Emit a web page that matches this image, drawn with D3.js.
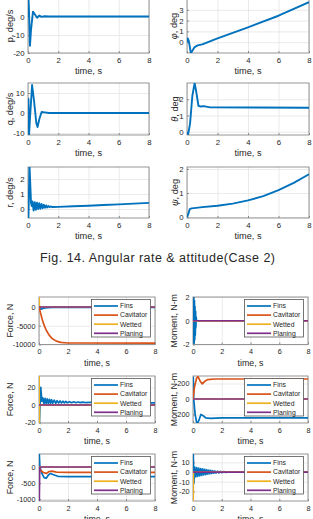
<!DOCTYPE html>
<html>
<head>
<meta charset="utf-8">
<script src="https://cdn.jsdelivr.net/npm/d3@7"></script>
<style>
body { margin: 0; background: #fff; }
text { font-family: "Liberation Sans", Arial, sans-serif; fill: #262626; }
.grid line { stroke: #e4e4e4; stroke-width: 0.8; }
.grid path { display: none; }
.tick-lab path { display: none; }
</style>
</head>
<body>
<svg id="chart" width="313" height="519"></svg>
<script>
var timeTicks = [0, 2, 4, 6, 8]

// Fig. 14 - angular rates and attitude
var pRate = [[0,0],[0.03,11],[0.06,5],[0.13,-16],[0.2,-7],[0.33,3],[0.45,1.5],[0.6,-0.4],[0.75,0.8],[0.9,0.1],[1.1,0.4],[1.4,0.3],[2,0.3],[8,0.3]]
var phiAng = [[0,0],[0.05,0.35],[0.12,0.1],[0.25,-1],[0.35,-0.8],[0.5,-0.45],[0.7,-0.3],[1,-0.2],[2,0.35],[4,1.38],[6,2.45],[8,3.7]]
var qRate = [[0,0],[0.03,7],[0.07,-11],[0.12,-4],[0.27,14],[0.4,6],[0.55,-5],[0.63,-7],[0.75,-3],[0.9,0.5],[1.1,0.3],[1.4,0],[8,0]]
var thetaAng = [[0,0],[0.08,-0.15],[0.2,0.5],[0.35,2.2],[0.5,3],[0.6,2.5],[0.75,1.6],[0.9,1.55],[1.1,1.58],[1.5,1.5],[8,1.48]]
var rRate = [[0,0],[0.03,-0.55],[0.1,2.9],[0.2,0.4],[0.25,0.2],[0.3,0.5],[0.37,-0.1],[0.45,0.45],[0.52,-0.05],[0.6,0.42],[0.67,0],[0.75,0.38],[0.82,0.02],[0.9,0.33],[0.97,0.05],[1.05,0.28],[1.12,0.08],[1.2,0.24],[1.27,0.1],[1.35,0.2],[1.42,0.12],[1.5,0.17],[1.6,0.13],[2,0.14],[3,0.18],[4,0.22],[5,0.27],[6,0.31],[7,0.36],[8,0.41]]
var psiAng = [[0,0],[0.1,0.15],[0.18,0.33],[0.3,0.36],[0.6,0.38],[1,0.41],[2,0.47],[3,0.56],[4,0.69],[5,0.87],[6,1.12],[7,1.42],[8,1.78]]

// Fig. 15 - forces and moments by component
var seriesNames = ["Fins", "Cavitator", "Wetted", "Planing"]
var zeroLine = [[0,0],[8,0]]

var force1Fins = [[0,0],[0.05,-400],[0.15,-600],[0.3,-300],[0.6,-150],[1,-100],[8,-100]]
var force1Cav = [[0,0],[0.1,-1500],[0.2,-3000],[0.3,-4300],[0.4,-5300],[0.5,-6200],[0.7,-7500],[0.9,-8400],[1.2,-9100],[1.5,-9450],[2,-9600],[8,-9650]]
var force1Wet = [[0,0],[0.01,2800],[0.03,0],[8,0]]
var force1Plan = zeroLine

var moment1Fins = [[0,0],[0.02,1.9],[0.04,-1.8],[0.06,1.9],[0.08,-1.9],[0.1,1.7],[0.12,-1.6],[0.14,1.2],[0.16,-1.2],[0.18,0.8],[0.2,-0.6],[0.22,0.3],[0.25,0],[8,0]]
var moment1Cav = zeroLine
var moment1Wet = zeroLine
var moment1Plan = zeroLine

var force2Fins = [[0,0],[0.03,-21],[0.06,-5],[0.12,20],[0.2,4],[0.27,8],[0.35,1],[0.42,7.5],[0.5,1.5],[0.57,7],[0.65,1.5],[0.72,6.5],[0.8,2],[0.87,6],[0.95,2],[1.05,5.5],[1.15,2],[1.25,5],[1.35,2.2],[1.45,4.6],[1.55,2.3],[1.65,4.3],[1.75,2.4],[1.85,4],[1.95,2.5],[2.1,3.8],[2.25,2.6],[2.4,3.6],[2.55,2.6],[2.7,3.4],[2.85,2.7],[3,3.2],[3.2,2.8],[3.5,3],[4,2.9],[8,2.5]]
var force2Cav = zeroLine
var force2Wet = [[0,0],[0.01,34],[0.02,-21],[0.035,0],[8,0]]
var force2Plan = zeroLine

var moment2Fins = [[0,0],[0.02,280],[0.05,0],[0.15,-200],[0.28,-330],[0.4,-280],[0.55,-200],[0.7,-215],[0.9,-245],[1.2,-250],[2,-245],[8,-245]]
var moment2Cav = [[0,0],[0.1,150],[0.25,270],[0.35,290],[0.5,230],[0.65,195],[0.8,225],[1,250],[1.5,258],[8,258]]
var moment2Wet = zeroLine
var moment2Plan = zeroLine

var force3Fins = [[0,0],[0.02,420],[0.06,0],[0.2,-200],[0.35,-330],[0.5,-350],[0.65,-250],[0.8,-200],[1,-240],[1.3,-290],[2,-300],[8,-300]]
var force3Cav = [[0,0],[0.1,-100],[0.3,-170],[0.5,-200],[0.7,-140],[0.9,-130],[1.2,-160],[2,-165],[8,-165]]
var force3Wet = zeroLine
var force3Plan = [[0,0],[0.02,-1100],[0.05,0],[8,0]]

var moment3Fins = [[0,0],[0.02,19],[0.06,-12],[0.12,5],[0.19,-5],[0.26,4.5],[0.33,-4.5],[0.4,4],[0.47,-4],[0.54,3.6],[0.61,-3.5],[0.68,3.2],[0.75,-3],[0.82,2.8],[0.89,-2.6],[0.96,2.4],[1.03,-2.2],[1.1,2],[1.17,-1.8],[1.24,1.7],[1.31,-1.5],[1.38,1.4],[1.45,-1.2],[1.52,1.1],[1.6,-1],[1.7,0.9],[1.8,-0.8],[1.9,0.7],[2,-0.6],[2.15,0.5],[2.3,-0.4],[2.5,0.3],[2.7,-0.2],[3,0.1],[3.5,0],[8,0]]
var moment3Cav = zeroLine
var moment3Wet = [[0,0],[0.015,-31],[0.03,0],[8,0]]
var moment3Plan = zeroLine

var lineColors = ["#0072BD", "#D95319", "#EDB120", "#7E2F8E"]

var svg = d3.select("#chart")
svg.append("rect").attr("width", 313).attr("height", 519).attr("fill", "#fff")

// layout of every axes box (pixels), fig 14 on top, fig 15 below
var panels = [
    {ylab: "p, deg/s", left: 28, right: 149, top: -1, bottom: 53, yDom: [-20, 10], yTicks: [-20, -10, 0], series: [pRate], labX: 10},
    {sym: "\u03C6", ylab: ", deg", left: 187, right: 309, top: -1, bottom: 53, yDom: [-1, 4], yTicks: [0, 1, 2, 3], series: [phiAng], labX: 174},
    {ylab: "q, deg/s", left: 28, right: 149, top: 83, bottom: 135, yDom: [-11, 15], yTicks: [-10, 0, 10], series: [qRate], labX: 10},
    {sym: "\u03B8", ylab: ", deg", left: 187, right: 309, top: 83, bottom: 135, yDom: [-0.2, 3], yTicks: [0, 1, 2], series: [thetaAng], labX: 175},
    {ylab: "r, deg/s", left: 28, right: 149, top: 167, bottom: 218, yDom: [-0.6, 2.8], yTicks: [0, 1, 2], series: [rRate], labX: 10},
    {sym: "\u03C8", ylab: ", deg", left: 187, right: 309, top: 167, bottom: 218, yDom: [-0.04, 2.08], yTicks: [0, 1, 2], series: [psiAng], labX: 175},

    {ylab: "Force, N", left: 39, right: 155, top: 297, bottom: 344.5, yDom: [-10000, 2670], yTicks: [-10000, -5000, 0], series: [force1Fins, force1Cav, force1Wet, force1Plan], labX: 9.5, legend: true, small: true},
    {ylab: "Moment, N-m", left: 193, right: 308, top: 297, bottom: 344.5, yDom: [-2, 2], yTicks: [-2, 0, 2], series: [moment1Fins, moment1Cav, moment1Wet, moment1Plan], labX: 173.5, legend: true, small: true},
    {ylab: "Force, N", left: 39, right: 155, top: 376, bottom: 423, yDom: [-20.5, 33], yTicks: [-20, 0, 20], series: [force2Fins, force2Cav, force2Wet, force2Plan], labX: 9.5, legend: true, small: true},
    {ylab: "Moment, N-m", left: 193, right: 308, top: 376, bottom: 423, yDom: [-310, 297], yTicks: [-200, 0, 200], series: [moment2Fins, moment2Cav, moment2Wet, moment2Plan], labX: 173.5, legend: true, small: true},
    {ylab: "Force, N", left: 39, right: 155, top: 454, bottom: 501, yDom: [-1060, 406], yTicks: [-1000, -500, 0], series: [force3Fins, force3Cav, force3Wet, force3Plan], labX: 9.5, legend: true, small: true},
    {ylab: "Moment, N-m", left: 193, right: 308, top: 454, bottom: 501, yDom: [-30, 18.7], yTicks: [-20, -10, 0, 10], series: [moment3Fins, moment3Cav, moment3Wet, moment3Plan], labX: 173.5, legend: true, small: true}
]

panels.forEach(function(p, i) {
    var w = p.right - p.left
    var h = p.bottom - p.top
    var tickFont = p.small ? 7.3 : 7.8
    var labFont = p.small ? 8.8 : 9.2

    var xScale = d3.scaleLinear().domain([0, 8]).range([0, w])
    var yScale = d3.scaleLinear().domain(p.yDom).range([h, 0])

    var g = svg.append("g").attr("transform", `translate(${p.left},${p.top})`)

    // grid
    g.append("g").attr("class", "grid")
     .attr("transform", `translate(0,${h})`)
     .call(d3.axisBottom(xScale).tickValues(timeTicks).tickSize(-h).tickFormat(""))
    g.append("g").attr("class", "grid")
     .call(d3.axisLeft(yScale).tickValues(p.yTicks).tickSize(-w).tickFormat(""))

    svg.append("clipPath").attr("id", "clip" + i)
       .append("rect").attr("x", p.left).attr("y", p.top).attr("width", w).attr("height", h)

    var line = d3.line().x(d => xScale(d[0])).y(d => yScale(d[1]))
    var lines = svg.append("g").attr("clip-path", `url(#clip${i})`)
                   .append("g").attr("transform", `translate(${p.left},${p.top})`)
    p.series.forEach(function(s, k) {
        lines.append("path")
             .attr("d", line(s))
             .attr("fill", "none")
             .attr("stroke", lineColors[k])
             .attr("stroke-width", p.small ? 1.7 : 1.9)
             .attr("stroke-linejoin", "round")
    })

    // box and small inner ticks
    g.append("rect").attr("width", w).attr("height", h)
     .attr("fill", "none").attr("stroke", "#8a8a8a").attr("stroke-width", 0.9)
    g.append("g").attr("class", "tick-lab")
     .attr("transform", `translate(0,${h})`)
     .call(d3.axisBottom(xScale).tickValues(timeTicks).tickSize(-2).tickPadding(4.5).tickFormat(d3.format("d")))
     .call(a => a.selectAll("line").attr("stroke", "#8a8a8a"))
     .selectAll("text").attr("font-size", tickFont).attr("fill", "#262626")
     .style("font-family", "Liberation Sans, Arial, sans-serif")
    g.append("g").attr("class", "tick-lab")
     .call(d3.axisLeft(yScale).tickValues(p.yTicks).tickSize(-2).tickPadding(3.5).tickFormat(d => String(d).replace("-", "-")))
     .call(a => a.selectAll("line").attr("stroke", "#8a8a8a"))
     .selectAll("text").attr("font-size", tickFont).attr("fill", "#262626")
     .style("font-family", "Liberation Sans, Arial, sans-serif")

    // x label
    g.append("text")
     .attr("x", w / 2).attr("y", h + 18).attr("dy", "0.35em")
     .attr("text-anchor", "middle").attr("font-size", labFont)
     .text("time, s")

    // y label
    var cy = p.top + h / 2
    var yl = svg.append("text")
                .attr("transform", `translate(${p.labX},${cy}) rotate(-90)`)
                .attr("dy", "0.35em")
                .attr("text-anchor", "middle")
                .attr("font-size", labFont)
    if (p.sym) {
        yl.append("tspan").attr("font-style", "italic").text(p.sym)
    }
    yl.append("tspan").text(p.ylab)

    // legend
    if (p.legend) {
        var lx = p.right - 63.5
        var ly = p.top + 2.5
        var lg = svg.append("g").attr("transform", `translate(${lx},${ly})`)
        lg.append("rect").attr("width", 59).attr("height", 37.5)
          .attr("fill", "#fff").attr("stroke", "#555").attr("stroke-width", 0.8)
        seriesNames.forEach(function(name, k) {
            var ry = 6.5 + k * 9.1
            lg.append("line").attr("x1", 2.5).attr("x2", 26.5).attr("y1", ry).attr("y2", ry)
              .attr("stroke", lineColors[k]).attr("stroke-width", 1.7)
            lg.append("text").attr("x", 28.5).attr("y", ry).attr("dy", "0.35em")
              .attr("font-size", 6.8).text(name)
        })
    }
})

// caption of fig 14
svg.append("text")
   .attr("x", 40).attr("y", 262)
   .attr("font-size", 12.5)
   .attr("textLength", 235)
   .attr("lengthAdjust", "spacing")
   .attr("fill", "#333")
   .text("Fig. 14. Angular rate & attitude(Case 2)")
</script>
</body>
</html>
